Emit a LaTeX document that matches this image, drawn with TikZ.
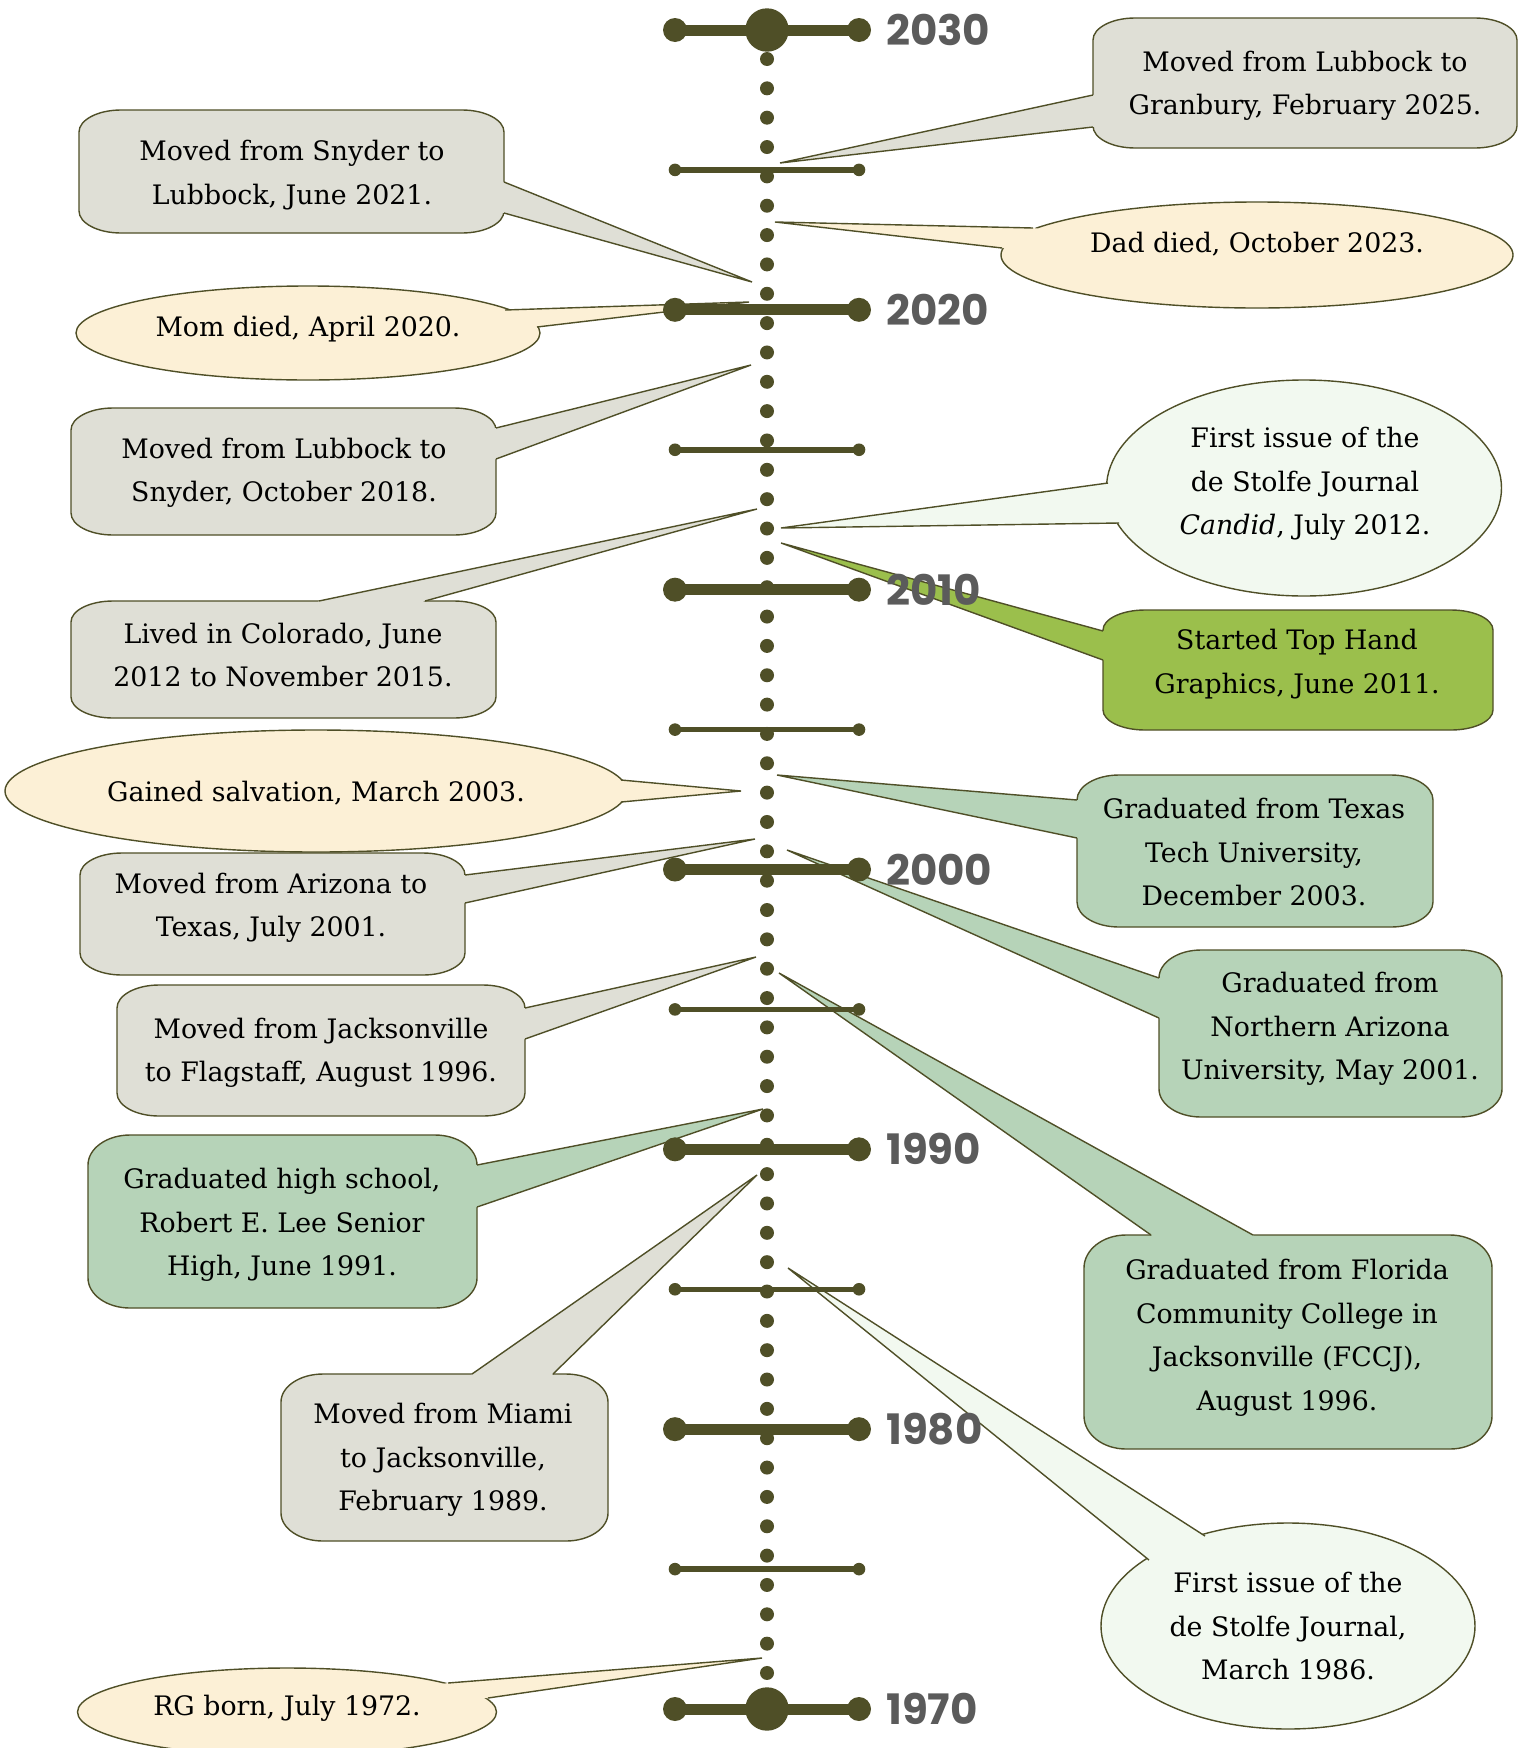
\documentclass[tikz,border=0pt]{standalone}
\usepackage{fontspec}
\setmainfont{DejaVu Serif}
\newfontfamily\yearfont{Poppins}
\usetikzlibrary{calc,shapes.geometric}
\definecolor{olv}{HTML}{4F4F27}
\definecolor{cgray}{HTML}{DFDFD6}
\definecolor{ccream}{HTML}{FCF0D6}
\definecolor{csage}{HTML}{B6D3B8}
\definecolor{cgreen}{HTML}{9BBF4C}
\definecolor{cpale}{HTML}{F2F9F0}
\definecolor{ygray}{HTML}{5B5B5B}
\tikzset{
  cbord/.style={draw=olv, line width=1.4pt},
  txt/.style={align=center, inner sep=0pt, font=\fontsize{26.8}{43.5}\selectfont},
  ell/.style={ellipse, cbord, inner sep=0pt},
  yr/.style={anchor=west, inner sep=0pt, text=ygray, font=\yearfont\bfseries\fontsize{42}{42}\selectfont},
}
% rounded box with elliptical corners: x1 y1 x2 y2 ry fill
\newcommand\rbx[6]{%
  \draw[cbord, fill=#6] (#1,#4-#5) -- (#1,#2+#5)
    arc[start angle=180,end angle=270,x radius=42,y radius=#5] -- (#3-42,#2)
    arc[start angle=270,end angle=360,x radius=42,y radius=#5] -- (#3,#4-#5)
    arc[start angle=0,end angle=90,x radius=42,y radius=#5] -- (#1+42,#4)
    arc[start angle=90,end angle=180,x radius=42,y radius=#5] -- cycle;}
% wedge: base1 base2 tip centre fill
\newcommand\wdg[5]{%
  \fill[#5] (#3) -- (#1) -- ($(#1)!5pt!(#4)$) -- ($(#2)!5pt!(#4)$) -- (#2) -- cycle;
  \draw[cbord] (#1) -- (#3) -- (#2);}
\begin{document}
\begin{tikzpicture}[x=1pt,y=-1pt]
\useasboundingbox (0,0) rectangle (1518,1748);
% ---------- callouts ----------
% Granbury
\coordinate (p1) at (780,163);
\rbx{1093}{18}{1517}{148}{22}{cgray}
\wdg{1093,95}{1093,127}{p1}{1305,83}{cgray}
% Snyder -> Lubbock
\coordinate (p2) at (752,282);
\rbx{79}{110}{504}{233}{22}{cgray}
\wdg{504,182}{504,213}{p2}{291,171}{cgray}
% Mom died
\coordinate (p3) at (749,302);
\node[ell, fill=ccream, minimum width=464, minimum height=94] (e3) at (308,333) {};
\wdg{505,310}{537,327}{p3}{e3.center}{ccream}
% Dad died
\coordinate (p4) at (775,222);
\node[ell, fill=ccream, minimum width=512, minimum height=106] (e4) at (1257,255) {};
\wdg{1033,228}{1002,248}{p4}{e4.center}{ccream}
% Lubbock -> Snyder
\coordinate (p5) at (751,365);
\rbx{71}{408}{496}{535}{22}{cgray}
\wdg{496,428}{496,459}{p5}{283,471}{cgray}
% Candid
\coordinate (p6) at (781,528);
\node[ell, fill=cpale, minimum width=395, minimum height=216] (e6) at (1304,488) {};
\wdg{1108,483}{1119,523}{p6}{e6.center}{cpale}
% Colorado
\coordinate (p7) at (757,509);
\rbx{71}{601}{496}{718}{21}{cgray}
\wdg{319,601}{425,601}{p7}{283,660}{cgray}
% Top Hand
\coordinate (p8) at (781,543);
\rbx{1103}{610}{1493}{730}{20}{cgreen}
\wdg{1103,631}{1103,660}{p8}{1298,670}{cgreen}
% Salvation
\coordinate (p9) at (741,791);
\node[ell, fill=ccream, minimum width=622, minimum height=122] (e9) at (316,791) {};
\wdg{621,780}{621,802}{p9}{e9.center}{ccream}
% Texas Tech
\coordinate (p10) at (777,775);
\rbx{1077}{775}{1433}{927}{25}{csage}
\wdg{1077,800}{1077,838}{p10}{1255,851}{csage}
% Arizona -> Texas
\coordinate (p11) at (755,839);
\rbx{80}{853}{465}{975}{22}{cgray}
\wdg{465,875}{465,903}{p11}{272,914}{cgray}
% NAU
\coordinate (p12) at (787,850);
\rbx{1159}{950}{1502}{1117}{28}{csage}
\wdg{1159,978}{1159,1018}{p12}{1330,1033}{csage}
% Jacksonville -> Flagstaff
\coordinate (p13) at (756,957);
\rbx{117}{985}{525}{1116}{23}{cgray}
\wdg{525,1008}{525,1039}{p13}{321,1050}{cgray}
% FCCJ
\coordinate (p14) at (779,973);
\rbx{1084}{1235}{1492}{1449}{33}{csage}
\wdg{1151,1235}{1253,1235}{p14}{1288,1342}{csage}
% High school
\coordinate (p15) at (763,1109);
\rbx{88}{1135}{477}{1308}{30}{csage}
\wdg{477,1165}{477,1207}{p15}{282,1221}{csage}
% Miami
\coordinate (p16) at (757,1175);
\rbx{281}{1374}{608}{1541}{28}{cgray}
\wdg{472,1374}{553,1374}{p16}{444,1457}{cgray}
% Journal 1986
\coordinate (p17) at (788,1268);
\node[ell, fill=cpale, minimum width=374, minimum height=206] (e17) at (1288,1626) {};
\wdg{1205,1536}{1149,1560}{p17}{e17.center}{cpale}
% RG born
\coordinate (p18) at (762,1658);
\node[ell, fill=ccream, minimum width=419, minimum height=88] (e18) at (287,1712) {};
\wdg{448,1683}{488,1698}{p18}{e18.center}{ccream}
% ---------- timeline ----------
\foreach \k in {0,...,55} \fill[olv] (767,59+29.345*\k) circle (7);
\foreach \y in {30,309.83,589.67,869.5,1149.33,1429.17,1709} {
  \draw[olv, line width=11pt] (675,\y) -- (859,\y);
  \fill[olv] (675,\y) circle (12) (859,\y) circle (12);
}
\foreach \y in {169.9,449.75,729.6,1009.4,1289.25,1569.1} {
  \draw[olv, line width=5.5pt] (675,\y) -- (859,\y);
  \fill[olv] (675,\y) circle (6.3) (859,\y) circle (6.3);
}
\fill[olv] (767,30) circle (21.7) (767,1709) circle (21.7);
% ---------- year labels ----------
\node[yr] (y2030) at (886,30) {2030};
\node[yr] (y2020) at (886,309.83) {2020};
\node[yr] (y2010) at (886,589.67) {2010};
\node[yr] (y2000) at (886,869.5) {2000};
\node[yr] (y1990) at (886,1149.33) {1990};
\node[yr] (y1980) at (886,1429.17) {1980};
\node[yr] (y1970) at (886,1709) {1970};
% ---------- texts ----------
\node[txt] (t1) at (1305,86) {Moved from Lubbock to\\Granbury, February 2025.};
\node[txt] (t2) at (292,175) {Moved from Snyder to\\Lubbock, June 2021.};
\node[txt] (t3) at (308,329) {Mom died, April 2020.};
\node[txt] (t4) at (1257,244) {Dad died, October 2023.};
\node[txt] (t5) at (284,473) {Moved from Lubbock to\\Snyder, October 2018.};
\node[txt] (t6) at (1305,484) {First issue of the\\de Stolfe Journal\\\textit{Candid}, July 2012.};
\node[txt] (t7) at (283,655) {Lived in Colorado, June\\2012 to November 2015.};
\node[txt] (t8) at (1297,664) {Started Top Hand\\Graphics, June 2011.};
\node[txt] (t9) at (316,793) {Gained salvation, March 2003.};
\node[txt] (t10) at (1254,852) {Graduated from Texas\\Tech University,\\December 2003.};
\node[txt] (t11) at (271,908) {Moved from Arizona to\\Texas, July 2001.};
\node[txt] (t12) at (1330,1029) {Graduated from\\Northern Arizona\\University, May 2001.};
\node[txt] (t13) at (321,1053) {Moved from Jacksonville\\to Flagstaff, August 1996.};
\node[txt] (t14) at (1287,1338) {Graduated from Florida\\Community College in\\Jacksonville (FCCJ),\\August 1996.};
\node[txt] (t15) at (282,1225) {Graduated high school,\\Robert E. Lee Senior\\High, June 1991.};
\node[txt] (t16) at (443,1460) {Moved from Miami\\to Jacksonville,\\February 1989.};
\node[txt] (t17) at (1288,1626) {First issue of the\\de Stolfe Journal,\\March 1986.};
\node[txt] (t18) at (287,1708) {RG born, July 1972.};
\end{tikzpicture}
\end{document}
